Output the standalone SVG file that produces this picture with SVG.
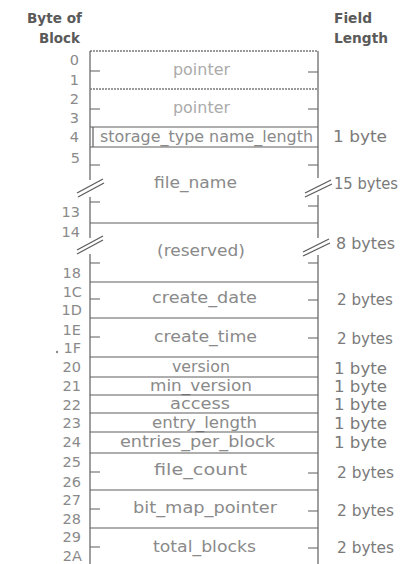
<svg xmlns="http://www.w3.org/2000/svg" width="402" height="564" viewBox="0 0 402 564">
<style>
text{font-family:"DejaVu Sans","Liberation Sans",sans-serif}
.h{font-size:14px;font-weight:bold;fill:#5a5a5a}
.b{font-size:14.5px;fill:#8a8a8a;text-anchor:end}
.f{font-size:15.5px;fill:#8a8a8a}
.p{font-size:15.5px;fill:#ababab}
.l{font-size:15.5px;fill:#7a7a7a}
.ln{stroke:#5e5e5e;stroke-width:1.2;fill:none}
.dl{stroke:#7a7a7a;stroke-width:1.3;stroke-dasharray:2 1;fill:none}
.tk{stroke:#6a6a6a;stroke-width:1.1;fill:none}
.br{stroke:#5e5e5e;stroke-width:1.3;fill:none}
</style>
<rect width="402" height="564" fill="#ffffff"/>
<g id="headers">
<text class="h" x="27" y="23" textLength="55" lengthAdjust="spacingAndGlyphs">Byte of</text>
<text class="h" x="39" y="43" textLength="41" lengthAdjust="spacingAndGlyphs">Block</text>
<text class="h" x="334" y="23" textLength="38" lengthAdjust="spacingAndGlyphs">Field</text>
<text class="h" x="334" y="43" textLength="54" lengthAdjust="spacingAndGlyphs">Length</text>
</g>
<g id="frame">
<line class="dl" x1="90" y1="51" x2="318" y2="51"/>
<line class="ln" x1="90" y1="51" x2="90" y2="180"/>
<line class="ln" x1="90" y1="197" x2="90" y2="238"/>
<line class="ln" x1="90" y1="254" x2="90" y2="564"/>
<line class="ln" x1="318" y1="51" x2="318" y2="178"/>
<line class="ln" x1="318" y1="195" x2="318" y2="238"/>
<line class="ln" x1="318" y1="255" x2="318" y2="564"/>
</g>
<g id="byte-offsets">
<text class="b" x="79" y="65">0</text>
<text class="b" x="79" y="85">1</text>
<text class="b" x="79" y="104">2</text>
<text class="b" x="79" y="123">3</text>
<text class="b" x="79" y="142">4</text>
<text class="b" x="80" y="163">5</text>
<text class="b" x="80" y="217">13</text>
<text class="b" x="80" y="237">14</text>
<text class="b" x="81" y="278">18</text>
<text class="b" x="82" y="297">1C</text>
<text class="b" x="82" y="315">1D</text>
<text class="b" x="81" y="335">1E</text>
<text class="b" x="81" y="353">1F</text>
<circle cx="57" cy="352" r="1.2" fill="#8a8a8a"/>
<text class="b" x="81" y="372">20</text>
<text class="b" x="81" y="391">21</text>
<text class="b" x="81" y="410">22</text>
<text class="b" x="81" y="428">23</text>
<text class="b" x="81" y="447">24</text>
<text class="b" x="81" y="467">25</text>
<text class="b" x="81" y="487">26</text>
<text class="b" x="81" y="505">27</text>
<text class="b" x="81" y="524">28</text>
<text class="b" x="81" y="542">29</text>
<text class="b" x="82" y="561">2A</text>
</g>
<g id="pointer1">
<line class="tk" x1="90" y1="71" x2="100" y2="71"/>
<line class="tk" x1="308" y1="72" x2="318" y2="72"/>
<text class="p" x="173" y="75" textLength="57" lengthAdjust="spacingAndGlyphs">pointer</text>
</g>
<g id="pointer2">
<line class="dl" x1="90" y1="89" x2="318" y2="89"/>
<line class="tk" x1="90" y1="109" x2="100" y2="109"/>
<line class="tk" x1="308" y1="109" x2="318" y2="109"/>
<text class="p" x="173" y="113" textLength="57" lengthAdjust="spacingAndGlyphs">pointer</text>
</g>
<g id="storage_type">
<line class="ln" x1="90" y1="127" x2="318" y2="127" stroke-width="1.6"/>
<line class="ln" x1="93" y1="127" x2="93" y2="147"/>
<text class="f" x="100" y="142" textLength="213" lengthAdjust="spacingAndGlyphs">storage_type name_length</text>
<text class="l" x="333" y="142" textLength="54" lengthAdjust="spacingAndGlyphs">1 byte</text>
</g>
<g id="file_name">
<line class="ln" x1="90" y1="147" x2="318" y2="147" stroke-width="1.6"/>
<line class="tk" x1="90" y1="165" x2="100" y2="165"/>
<line class="tk" x1="90" y1="202" x2="100" y2="202"/>
<line class="tk" x1="308" y1="165" x2="318" y2="165"/>
<line class="tk" x1="308" y1="206" x2="318" y2="206"/>
<line class="br" x1="77" y1="193" x2="103" y2="179"/>
<line class="br" x1="78" y1="197" x2="104" y2="183"/>
<line class="br" x1="305" y1="193" x2="331" y2="180"/>
<line class="br" x1="305" y1="197" x2="332" y2="184"/>
<text class="f" x="154" y="188" textLength="83" lengthAdjust="spacingAndGlyphs">file_name</text>
<text class="l" x="334" y="189" textLength="64" lengthAdjust="spacingAndGlyphs">15 bytes</text>
</g>
<g id="reserved">
<line class="ln" x1="90" y1="223" x2="318" y2="223"/>
<line class="tk" x1="90" y1="263" x2="100" y2="263"/>
<line class="tk" x1="308" y1="263" x2="318" y2="263"/>
<line class="br" x1="77" y1="250" x2="103" y2="236"/>
<line class="br" x1="77" y1="254" x2="103" y2="240"/>
<line class="br" x1="303" y1="252" x2="329" y2="239"/>
<line class="br" x1="303" y1="256" x2="330" y2="243"/>
<text class="f" x="157" y="256" textLength="88" lengthAdjust="spacingAndGlyphs">(reserved)</text>
<text class="l" x="336" y="249" textLength="59" lengthAdjust="spacingAndGlyphs">8 bytes</text>
</g>
<g id="create_date">
<line class="ln" x1="90" y1="282" x2="318" y2="282"/>
<line class="tk" x1="90" y1="299" x2="100" y2="299"/>
<line class="tk" x1="308" y1="300" x2="318" y2="300"/>
<text class="f" x="152" y="303" textLength="105" lengthAdjust="spacingAndGlyphs">create_date</text>
<text class="l" x="337" y="305" textLength="56" lengthAdjust="spacingAndGlyphs">2 bytes</text>
</g>
<g id="create_time">
<line class="ln" x1="90" y1="318" x2="318" y2="318"/>
<line class="tk" x1="90" y1="337" x2="100" y2="337"/>
<line class="tk" x1="308" y1="338" x2="318" y2="338"/>
<text class="f" x="154" y="342" textLength="103" lengthAdjust="spacingAndGlyphs">create_time</text>
<text class="l" x="337" y="344" textLength="56" lengthAdjust="spacingAndGlyphs">2 bytes</text>
</g>
<g id="version">
<line class="ln" x1="90" y1="357" x2="318" y2="357"/>
<text class="f" x="172" y="372" textLength="58" lengthAdjust="spacingAndGlyphs">version</text>
<text class="l" x="334" y="374" textLength="53" lengthAdjust="spacingAndGlyphs">1 byte</text>
</g>
<g id="min_version">
<line class="ln" x1="90" y1="377" x2="318" y2="377"/>
<text class="f" x="150" y="391" textLength="102" lengthAdjust="spacingAndGlyphs">min_version</text>
<text class="l" x="334" y="392" textLength="53" lengthAdjust="spacingAndGlyphs">1 byte</text>
</g>
<g id="access">
<line class="ln" x1="90" y1="395" x2="318" y2="395"/>
<text class="f" x="170" y="409" textLength="60" lengthAdjust="spacingAndGlyphs">access</text>
<text class="l" x="334" y="410" textLength="53" lengthAdjust="spacingAndGlyphs">1 byte</text>
</g>
<g id="entry_length">
<line class="ln" x1="90" y1="413" x2="318" y2="413"/>
<text class="f" x="152" y="428" textLength="105" lengthAdjust="spacingAndGlyphs">entry_length</text>
<text class="l" x="334" y="429" textLength="53" lengthAdjust="spacingAndGlyphs">1 byte</text>
</g>
<g id="entries_per_block">
<line class="ln" x1="90" y1="432" x2="318" y2="432"/>
<text class="f" x="120" y="447" textLength="155" lengthAdjust="spacingAndGlyphs">entries_per_block</text>
<text class="l" x="334" y="448" textLength="53" lengthAdjust="spacingAndGlyphs">1 byte</text>
</g>
<g id="file_count">
<line class="ln" x1="90" y1="453" x2="318" y2="453"/>
<line class="tk" x1="90" y1="472" x2="100" y2="472"/>
<line class="tk" x1="308" y1="473" x2="318" y2="473"/>
<text class="f" x="154" y="475" textLength="93" lengthAdjust="spacingAndGlyphs">file_count</text>
<text class="l" x="337" y="478" textLength="57" lengthAdjust="spacingAndGlyphs">2 bytes</text>
</g>
<g id="bit_map_pointer">
<line class="ln" x1="90" y1="490" x2="318" y2="490"/>
<line class="tk" x1="90" y1="509" x2="100" y2="509"/>
<line class="tk" x1="308" y1="511" x2="318" y2="511"/>
<text class="f" x="133" y="513" textLength="144" lengthAdjust="spacingAndGlyphs">bit_map_pointer</text>
<text class="l" x="337" y="516" textLength="57" lengthAdjust="spacingAndGlyphs">2 bytes</text>
</g>
<g id="total_blocks">
<line class="ln" x1="90" y1="528" x2="318" y2="528"/>
<line class="tk" x1="90" y1="547" x2="100" y2="547"/>
<line class="tk" x1="308" y1="548" x2="318" y2="548"/>
<text class="f" x="153" y="552" textLength="103" lengthAdjust="spacingAndGlyphs">total_blocks</text>
<text class="l" x="337" y="553" textLength="57" lengthAdjust="spacingAndGlyphs">2 bytes</text>
</g>
</svg>
